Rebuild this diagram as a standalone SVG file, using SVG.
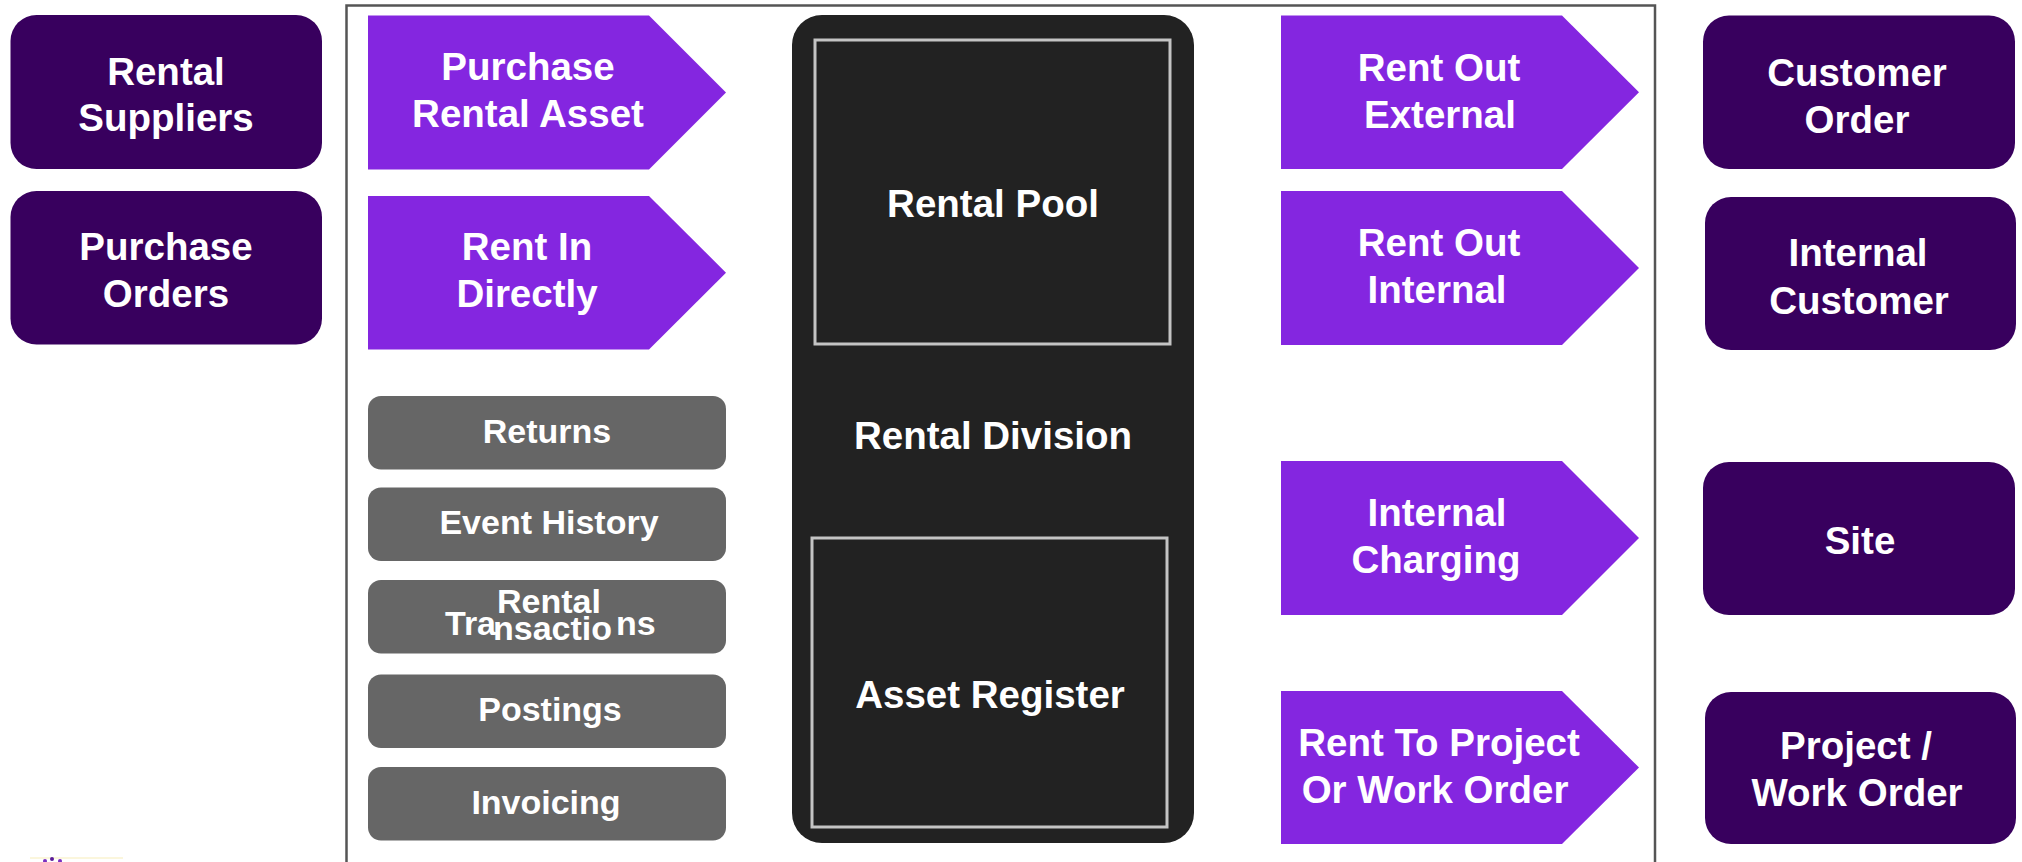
<svg xmlns="http://www.w3.org/2000/svg" width="2022" height="862" viewBox="0 0 2022 862">
<style>
  text { font-family: "Liberation Sans", Arial, sans-serif; font-weight: bold; fill: #ffffff; text-anchor: middle; }
  .big { font-size: 38.5px; }
  .small { font-size: 34px; }
  .start { text-anchor: start; }
  .ext { fill: #38005e; }
  .arrow { fill: #8426e0; }
  .step { fill: #666666; }
  .core { fill: #222222; }
  .inner { fill: none; stroke: #c4c4c4; stroke-width: 3; }
  .frame { fill: none; stroke: #555555; stroke-width: 2.5; }
</style>
<rect width="2022" height="862" fill="#ffffff"/>
<g id="frame"><rect class="frame" x="346.5" y="5.5" width="1308.5" height="900"/></g>

<g id="rental-suppliers"><rect class="ext" x="10.5" y="15" width="311.5" height="154" rx="26"/>
<text class="big" x="166" y="85">Rental</text><text class="big" x="166" y="131">Suppliers</text></g>
<g id="purchase-orders"><rect class="ext" x="10.5" y="191" width="311.5" height="153.5" rx="26"/>
<text class="big" x="166" y="260">Purchase</text><text class="big" x="166" y="307">Orders</text></g>

<g id="purchase-rental-asset"><polygon class="arrow" points="368,15.5 649,15.5 726,92.5 649,169.5 368,169.5"/>
<text class="big" x="528" y="80">Purchase</text><text class="big" x="528" y="127">Rental Asset</text></g>
<g id="rent-in-directly"><polygon class="arrow" points="368,196 649,196 726,272.7 649,349.5 368,349.5"/>
<text class="big" x="527" y="260">Rent In</text><text class="big" x="527" y="307">Directly</text></g>

<g id="returns"><rect class="step" x="368" y="396" width="358" height="73.5" rx="13"/>
<text class="small" x="547" y="443">Returns</text></g>
<g id="event-history"><rect class="step" x="368" y="487.5" width="358" height="73.5" rx="13"/>
<text class="small" x="549" y="534">Event History</text></g>
<g id="rental-transactions"><rect class="step" x="368" y="580" width="358" height="73.5" rx="13"/>
<text class="small start" x="445" y="635">Tra</text>
<text class="small start" x="616" y="635">ns</text>
<text class="small start" x="493" y="640">nsactio</text>
<text class="small" x="549" y="613">Rental</text></g>
<g id="postings"><rect class="step" x="368" y="674.5" width="358" height="73.5" rx="13"/>
<text class="small" x="550" y="721">Postings</text></g>
<g id="invoicing"><rect class="step" x="368" y="767" width="358" height="73.5" rx="13"/>
<text class="small" x="546" y="814">Invoicing</text></g>

<g id="rental-division"><rect class="core" x="792" y="15" width="402" height="828" rx="30"/>
<text class="big" x="993" y="449">Rental Division</text></g>
<g id="rental-pool"><rect class="inner" x="815" y="40" width="355" height="304"/>
<text class="big" x="993" y="217">Rental Pool</text></g>
<g id="asset-register"><rect class="inner" x="812" y="538" width="355" height="289"/>
<text class="big" x="990" y="708">Asset Register</text></g>

<g id="rent-out-external"><polygon class="arrow" points="1281,15.5 1562,15.5 1639,92.3 1562,169 1281,169"/>
<text class="big" x="1439" y="80.5">Rent Out</text><text class="big" x="1440" y="128">External</text></g>
<g id="rent-out-internal"><polygon class="arrow" points="1281,191 1562,191 1639,268 1562,345 1281,345"/>
<text class="big" x="1439" y="256">Rent Out</text><text class="big" x="1437" y="303">Internal</text></g>
<g id="internal-charging"><polygon class="arrow" points="1281,461 1562,461 1639,538 1562,615 1281,615"/>
<text class="big" x="1437" y="526">Internal</text><text class="big" x="1436" y="573">Charging</text></g>
<g id="rent-to-project"><polygon class="arrow" points="1281,691 1562,691 1639,767.5 1562,844 1281,844"/>
<text class="big" x="1439" y="756">Rent To Project</text><text class="big" x="1435" y="803">Or Work Order</text></g>

<g id="customer-order"><rect class="ext" x="1703" y="15.5" width="312" height="153.5" rx="26"/>
<text class="big" x="1857" y="85.5">Customer</text><text class="big" x="1857" y="133">Order</text></g>
<g id="internal-customer"><rect class="ext" x="1705" y="197" width="311" height="153" rx="26"/>
<text class="big" x="1858" y="266">Internal</text><text class="big" x="1859" y="314">Customer</text></g>
<g id="site"><rect class="ext" x="1703" y="462" width="312" height="153" rx="26"/>
<text class="big" x="1860" y="554">Site</text></g>
<g id="project-work-order"><rect class="ext" x="1705" y="692" width="311" height="152" rx="26"/>
<text class="big" x="1856" y="759">Project /</text><text class="big" x="1857" y="806">Work Order</text></g>

<g id="connectors"></g>
<g id="logo-fragment"><rect x="30" y="857" width="93" height="2" fill="#fbf6dc"/>
<circle cx="45" cy="861" r="2" fill="#7a2fc0"/><circle cx="52" cy="859" r="2" fill="#5a1a9a"/><circle cx="60" cy="861" r="2" fill="#7a2fc0"/></g>
</svg>
